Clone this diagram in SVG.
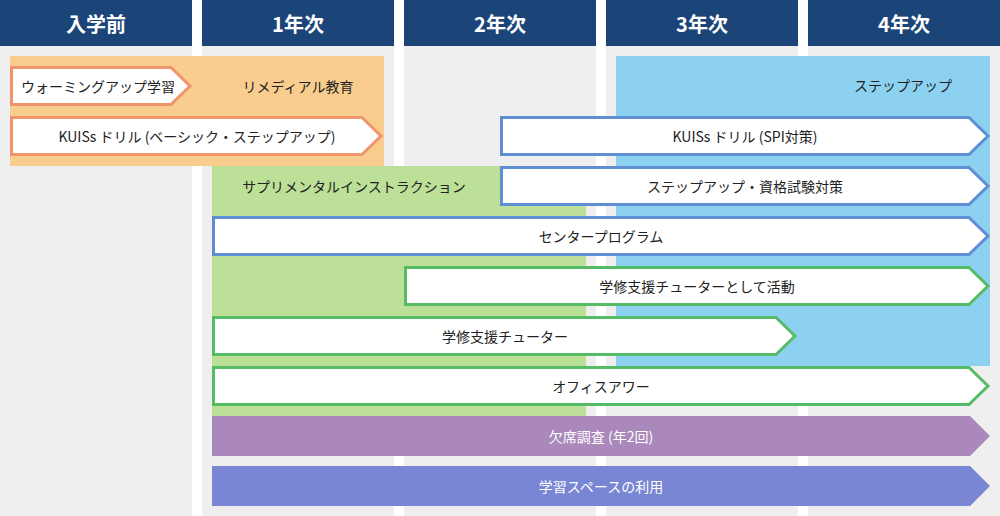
<svg xmlns="http://www.w3.org/2000/svg" width="1000" height="516" viewBox="0 0 1000 516">
<style>
text{font-family:"Noto Sans CJK JP","Noto Sans",sans-serif;dominant-baseline:central;text-anchor:middle}
.hd{fill:#1b4479}
.hdt{fill:#fff;font-size:20px;font-weight:700}
.col{fill:#efefef}
.lbl{fill:#222;font-size:14px}
.wl{fill:#fff;font-size:14px}
.ar{fill:#fff;stroke-width:3;stroke-linejoin:miter}
.or{stroke:#f0946e}
.bl{stroke:#5f8ed4}
.gr{stroke:#55bc66}
</style>
<rect width="1000" height="516" fill="#fff"/>
<g id="columns">
<rect class="col" x="0" y="46" width="192" height="470"/>
<rect class="col" x="202" y="46" width="192" height="470"/>
<rect class="col" x="404" y="46" width="192" height="470"/>
<rect class="col" x="606" y="46" width="192" height="470"/>
<rect class="col" x="808" y="46" width="192" height="470"/>
</g>
<g id="headers">
<rect class="hd" x="0" y="0" width="192" height="46"/>
<rect class="hd" x="202" y="0" width="192" height="46"/>
<rect class="hd" x="404" y="0" width="192" height="46"/>
<rect class="hd" x="606" y="0" width="192" height="46"/>
<rect class="hd" x="808" y="0" width="192" height="46"/>
<text class="hdt" x="96" y="23">入学前</text>
<text class="hdt" x="298" y="23">1年次</text>
<text class="hdt" x="500" y="23">2年次</text>
<text class="hdt" x="702" y="23">3年次</text>
<text class="hdt" x="904" y="23">4年次</text>
</g>
<g id="panel-remedial">
<rect x="10" y="56" width="374" height="110" fill="#f9cd8d"/>
<text class="lbl" x="298" y="86">リメディアル教育</text>
</g>
<g id="panel-supplemental">
<rect x="212" y="166" width="374" height="250" fill="#bce097"/>
<text class="lbl" x="354" y="186">サプリメンタルインストラクション</text>
</g>
<g id="panel-stepup">
<rect x="616" y="56" width="374" height="310" fill="#8dd1f0"/>
<text class="lbl" x="903" y="85">ステップアップ</text>
</g>
<g id="connectors">
<g id="warmup">
<path class="ar or" d="M11.5 67.5H171L190 86L171 104.5H11.5Z"/>
<text class="lbl" x="98" y="86">ウォーミングアップ学習</text>
</g>
<g id="drill-basic">
<path class="ar or" d="M11.5 117.5H362L381 136L362 154.5H11.5Z"/>
<text class="lbl" x="197" y="136">KUISs ドリル (ベーシック・ステップアップ)</text>
</g>
<g id="drill-spi">
<path class="ar bl" d="M501.5 117.5H969L988 136L969 154.5H501.5Z"/>
<text class="lbl" x="745" y="136">KUISs ドリル (SPI対策)</text>
</g>
<g id="stepup-exam">
<path class="ar bl" d="M501.5 167.5H969L988 186L969 204.5H501.5Z"/>
<text class="lbl" x="745" y="186">ステップアップ・資格試験対策</text>
</g>
<g id="center-program">
<path class="ar bl" d="M213.5 217.5H969L988 236L969 254.5H213.5Z"/>
<text class="lbl" x="601" y="236">センタープログラム</text>
</g>
<g id="tutor-activity">
<path class="ar gr" d="M405.5 267.5H969L988 286L969 304.5H405.5Z"/>
<text class="lbl" x="697" y="286">学修支援チューターとして活動</text>
</g>
<g id="tutor">
<path class="ar gr" d="M213.5 317.5H776L795 336L776 354.5H213.5Z"/>
<text class="lbl" x="505" y="336">学修支援チューター</text>
</g>
<g id="office-hour">
<path class="ar gr" d="M213.5 367.5H969L988 386L969 404.5H213.5Z"/>
<text class="lbl" x="601" y="386">オフィスアワー</text>
</g>
<g id="absence">
<path d="M212 416H970L990 436L970 456H212Z" fill="#aa88bb"/>
<text class="wl" x="601" y="436">欠席調査 (年2回)</text>
</g>
<g id="space">
<path d="M212 466H970L990 486L970 506H212Z" fill="#7986d3"/>
<text class="wl" x="601" y="486">学習スペースの利用</text>
</g>
</g>
</svg>
